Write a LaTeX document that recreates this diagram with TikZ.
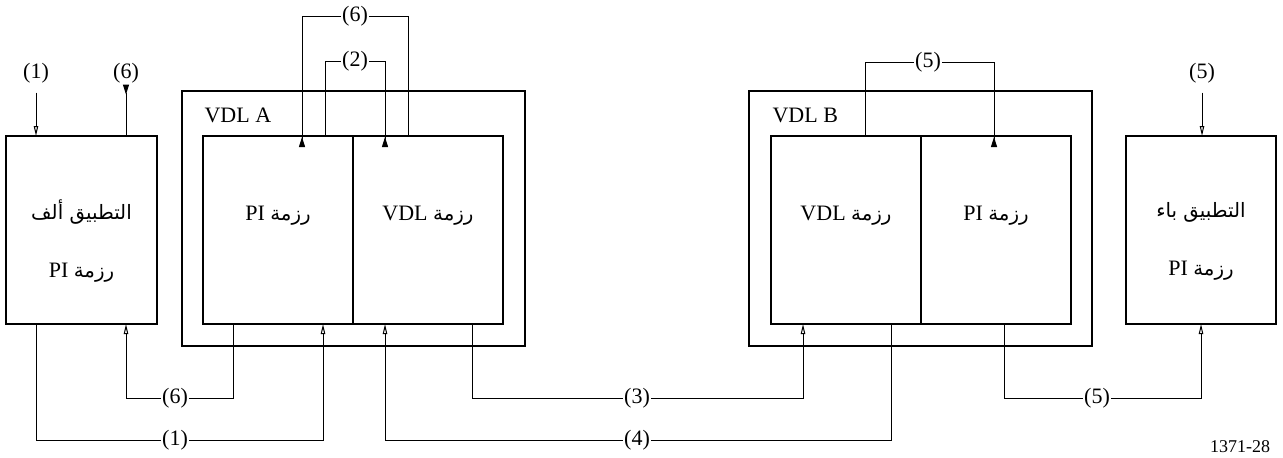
\documentclass[tikz,border=0pt]{standalone}
\usepackage{fontspec}
\setmainfont{Liberation Serif}
\newfontfamily\arabicfont[Script=Arabic,Scale=0.9]{DejaVu Sans}
\TeXXeTstate=1
\usetikzlibrary{arrows.meta,positioning}

\tikzset{
  box/.style={draw, line width=1.1pt, outer sep=0pt, inner sep=0pt,
    minimum width=75pt, minimum height=94pt},
  frame/.style={draw, line width=1.3pt, outer sep=0pt, inner sep=0pt,
    minimum width=171.5pt, minimum height=127.5pt},
  lbl/.style={inner sep=0.6pt, font=\fontsize{11pt}{13pt}\selectfont},
  txt/.style={align=center, inner sep=0pt, font=\fontsize{11pt}{13pt}\selectfont},
  conn/.style={line width=0.5pt},
  into/.style={conn, -{Triangle[open, length=5pt, width=2.2pt]}},
  back/.style={conn, -{Triangle[reversed, length=5pt, width=3pt]}},
}

\begin{document}
\begin{tikzpicture}[x=0.5pt, y=0.5pt]
\useasboundingbox (0,0) rectangle (1283,457);

% application A
\node[box, minimum width=75.5pt] (appA) at (81.5,227) {};
\node[txt] (appAtxt) at ([yshift=-5.5pt]appA.center)
  {\arabicfont\beginR التطبيق ألف\endR\\[16pt]
   \beginR{\arabicfont رزمة} \beginL PI\endL\endR};

% system A: IP and VDL stacks
\node[frame] (sysA) at (353.5,238.5) {};
\node[lbl, anchor=west] (nameA) at ([xshift=10.5pt,yshift=-12pt]sysA.north west) {VDL A};
\node[box] (ipA) at (278,227) {};
\node[box, right=0pt of ipA] (vdlA) {};
\node[txt] (ipAtxt) at ([yshift=7pt]ipA.center)
  {\beginR{\arabicfont رزمة} \beginL PI\endL\endR};
\node[txt] (vdlAtxt) at ([yshift=7pt]vdlA.center)
  {\beginR{\arabicfont رزمة} \beginL VDL\endL\endR};

% system B: VDL and IP stacks
\node[frame] (sysB) at (920.5,238.5) {};
\node[lbl, anchor=west] (nameB) at ([xshift=11pt,yshift=-12pt]sysB.north west) {VDL B};
\node[box] (vdlB) at (846,227) {};
\node[box, right=0pt of vdlB] (ipB) {};
\node[txt] (vdlBtxt) at ([yshift=7pt]vdlB.center)
  {\beginR{\arabicfont رزمة} \beginL VDL\endL\endR};
\node[txt] (ipBtxt) at ([yshift=7pt]ipB.center)
  {\beginR{\arabicfont رزمة} \beginL PI\endL\endR};

% application B
\node[box] (appB) at (1201,227) {};
\node[txt] (appBtxt) at ([yshift=-5.5pt]appB.center)
  {\arabicfont\beginR التطبيق باء\endR\\[16pt]
   \beginR{\arabicfont رزمة} \beginL PI\endL\endR};

% step labels
\node[lbl] (inA1) at (36,384) {(1)};
\node[lbl] (inA6) at (126,384) {(6)};
\node[lbl] (inB5) at (1202,384) {(5)};
\node[lbl] (topA6) at (355,441) {(6)};
\node[lbl] (topA2) at (355,396) {(2)};
\node[lbl] (topB5) at (928,395) {(5)};
\node[lbl] (busA6) at (175,59) {(6)};
\node[lbl] (busA1) at (175,17) {(1)};
\node[lbl] (bus3) at (637,59) {(3)};
\node[lbl] (bus4) at (637,17) {(4)};
\node[lbl] (busB5) at (1097,59) {(5)};
\node[font=\fontsize{9pt}{11pt}\selectfont] (figno) at (1240,10) {1371-28};

% into and out of the applications
\draw[into, shorten <=4pt] (inA1) -- (inA1 |- appA.north);
\draw[back] (inA6 |- appA.north) -- (inA6);
\draw[into, shorten <=4pt] (inB5) -- (inB5 |- appB.north);

% loops over the top of the stacks
\draw[back] ([xshift=27.5pt]vdlA.north west) |- (topA6) -| ([xshift=49.5pt,yshift=-5.5pt]ipA.north west);
\draw[back] ([xshift=61pt]ipA.north west) |- (topA2) -| ([xshift=16pt,yshift=-5.5pt]vdlA.north west);
\draw[back] ([xshift=47pt]vdlB.north west) |- (topB5) -| ([xshift=36.5pt,yshift=-5.5pt]ipB.north west);

% links under the boxes
\draw[into] ([xshift=15pt]ipA.south west) |- (busA6) -| ([xshift=60pt]appA.south west);
\draw[into] ([xshift=15pt]appA.south west) |- (busA1) -| ([xshift=60pt]ipA.south west);
\draw[into] ([xshift=59.5pt]vdlA.south west) |- (bus3) -| ([xshift=16pt]vdlB.south west);
\draw[into] ([xshift=60pt]vdlB.south west) |- (bus4) -| ([xshift=16pt]vdlA.south west);
\draw[into] ([xshift=41.5pt]ipB.south west) |- (busB5) -| (appB.south);

\end{tikzpicture}
\end{document}
